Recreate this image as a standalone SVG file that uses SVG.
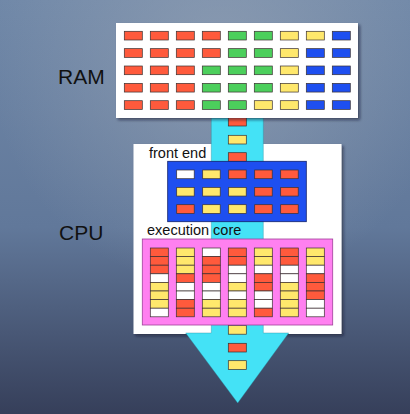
<svg xmlns="http://www.w3.org/2000/svg" width="410" height="414" viewBox="0 0 410 414">
<defs>
<linearGradient id="bg" x1="0" y1="0" x2="0" y2="1">
<stop offset="0" stop-color="#7088a8"/>
<stop offset="0.55" stop-color="#61789a"/>
<stop offset="1" stop-color="#363f5a"/>
</linearGradient>
<radialGradient id="glow" cx="220" cy="60" r="230" gradientUnits="userSpaceOnUse">
<stop offset="0" stop-color="#a0aab8" stop-opacity="0.55"/>
<stop offset="1" stop-color="#a0aab8" stop-opacity="0"/>
</radialGradient>
<filter id="sh" x="-10%" y="-10%" width="125%" height="125%">
<feDropShadow dx="2" dy="2" stdDeviation="1.5" flood-color="#101828" flood-opacity="0.55"/>
</filter>
</defs>
<style>
.c{stroke:#3a3030;stroke-width:0.7}
.r{fill:#ff5a3c}.g{fill:#4ccf5c}.y{fill:#ffe86c}.b{fill:#1e4ff0}.w{fill:#ffffff}
.lbl{font-family:"Liberation Sans",Arial,sans-serif;fill:#111}
</style>
<rect width="410" height="414" fill="url(#bg)"/>
<rect width="410" height="414" fill="url(#glow)"/>

<g id="cpu">
<rect x="133.5" y="144" width="208" height="190" fill="#ffffff" filter="url(#sh)"/>
<text class="lbl" x="59" y="239.5" font-size="21">CPU</text>
</g>

<g id="connectors">
<polygon points="211.3,118 263.3,118 263.3,333 288.7,333 237.7,403 185.7,333 211.3,333" fill="#44e2f6" stroke="#2a8ca0" stroke-width="0.4"/>
<rect class="c r" x="228.3" y="117.3" width="18" height="8.7"/>
<rect class="c y" x="228.3" y="135.3" width="18" height="8.7"/>
<rect class="c r" x="228.3" y="152.7" width="18" height="8.7"/>
<rect class="c y" x="228.3" y="325.5" width="18" height="8.7"/>
<rect class="c r" x="228.3" y="343.3" width="18" height="8.7"/>
<rect class="c y" x="228.3" y="360.7" width="18" height="8.7"/>
</g>

<g id="ram">
<rect x="116" y="23" width="242" height="95" fill="#ffffff" filter="url(#sh)"/>
<text class="lbl" x="58" y="83.7" font-size="21">RAM</text>
<g transform="translate(124.3,31.3)">
<rect class="c r" x="0" y="0" width="18" height="8.7"/><rect class="c r" x="26" y="0" width="18" height="8.7"/><rect class="c r" x="52" y="0" width="18" height="8.7"/><rect class="c r" x="78" y="0" width="18" height="8.7"/><rect class="c g" x="104" y="0" width="18" height="8.7"/><rect class="c g" x="130" y="0" width="18" height="8.7"/><rect class="c y" x="156" y="0" width="18" height="8.7"/><rect class="c y" x="182" y="0" width="18" height="8.7"/><rect class="c b" x="208" y="0" width="18" height="8.7"/>
<rect class="c r" x="0" y="17.35" width="18" height="8.7"/><rect class="c r" x="26" y="17.35" width="18" height="8.7"/><rect class="c r" x="52" y="17.35" width="18" height="8.7"/><rect class="c r" x="78" y="17.35" width="18" height="8.7"/><rect class="c g" x="104" y="17.35" width="18" height="8.7"/><rect class="c g" x="130" y="17.35" width="18" height="8.7"/><rect class="c y" x="156" y="17.35" width="18" height="8.7"/><rect class="c b" x="182" y="17.35" width="18" height="8.7"/><rect class="c b" x="208" y="17.35" width="18" height="8.7"/>
<rect class="c r" x="0" y="34.7" width="18" height="8.7"/><rect class="c r" x="26" y="34.7" width="18" height="8.7"/><rect class="c r" x="52" y="34.7" width="18" height="8.7"/><rect class="c g" x="78" y="34.7" width="18" height="8.7"/><rect class="c g" x="104" y="34.7" width="18" height="8.7"/><rect class="c g" x="130" y="34.7" width="18" height="8.7"/><rect class="c y" x="156" y="34.7" width="18" height="8.7"/><rect class="c b" x="182" y="34.7" width="18" height="8.7"/><rect class="c b" x="208" y="34.7" width="18" height="8.7"/>
<rect class="c r" x="0" y="52.05" width="18" height="8.7"/><rect class="c r" x="26" y="52.05" width="18" height="8.7"/><rect class="c r" x="52" y="52.05" width="18" height="8.7"/><rect class="c g" x="78" y="52.05" width="18" height="8.7"/><rect class="c g" x="104" y="52.05" width="18" height="8.7"/><rect class="c g" x="130" y="52.05" width="18" height="8.7"/><rect class="c y" x="156" y="52.05" width="18" height="8.7"/><rect class="c b" x="182" y="52.05" width="18" height="8.7"/><rect class="c b" x="208" y="52.05" width="18" height="8.7"/>
<rect class="c r" x="0" y="69.4" width="18" height="8.7"/><rect class="c r" x="26" y="69.4" width="18" height="8.7"/><rect class="c r" x="52" y="69.4" width="18" height="8.7"/><rect class="c g" x="78" y="69.4" width="18" height="8.7"/><rect class="c g" x="104" y="69.4" width="18" height="8.7"/><rect class="c y" x="130" y="69.4" width="18" height="8.7"/><rect class="c y" x="156" y="69.4" width="18" height="8.7"/><rect class="c b" x="182" y="69.4" width="18" height="8.7"/><rect class="c b" x="208" y="69.4" width="18" height="8.7"/>
</g>
</g>

<g id="front-end">
<text class="lbl" x="149" y="158.3" font-size="14.5">front end</text>
<rect x="167.7" y="161.3" width="138.6" height="60.4" fill="#1e4ff0" stroke="#10206a" stroke-width="0.8"/>
<g transform="translate(176.7,170)">
<rect class="c w" x="0" y="0" width="17.5" height="8.7"/><rect class="c y" x="26" y="0" width="17.5" height="8.7"/><rect class="c r" x="52" y="0" width="17.5" height="8.7"/><rect class="c r" x="78" y="0" width="17.5" height="8.7"/><rect class="c r" x="104" y="0" width="17.5" height="8.7"/>
<rect class="c y" x="0" y="17.35" width="17.5" height="8.7"/><rect class="c y" x="26" y="17.35" width="17.5" height="8.7"/><rect class="c y" x="52" y="17.35" width="17.5" height="8.7"/><rect class="c r" x="78" y="17.35" width="17.5" height="8.7"/><rect class="c r" x="104" y="17.35" width="17.5" height="8.7"/>
<rect class="c r" x="0" y="34.7" width="17.5" height="8.7"/><rect class="c y" x="26" y="34.7" width="17.5" height="8.7"/><rect class="c y" x="52" y="34.7" width="17.5" height="8.7"/><rect class="c r" x="78" y="34.7" width="17.5" height="8.7"/><rect class="c r" x="104" y="34.7" width="17.5" height="8.7"/>
</g>
</g>

<g id="execution-core">
<text class="lbl" x="147" y="235" font-size="14.5">execution core</text>
<rect x="142.3" y="239" width="190.4" height="86" fill="#ff80f0" stroke="#a0409a" stroke-width="0.8"/>
<g transform="translate(150.3,248)">
<g id="col1"><rect class="c r" x="0" y="0" width="18" height="8.6"/><rect class="c r" x="0" y="8.6" width="18" height="8.6"/><rect class="c r" x="0" y="17.2" width="18" height="8.6"/><rect class="c w" x="0" y="25.8" width="18" height="8.6"/><rect class="c y" x="0" y="34.4" width="18" height="8.6"/><rect class="c y" x="0" y="43" width="18" height="8.6"/><rect class="c y" x="0" y="51.6" width="18" height="8.6"/><rect class="c w" x="0" y="60.2" width="18" height="8.6"/></g>
<g id="col2" transform="translate(26,0)"><rect class="c y" x="0" y="0" width="18" height="8.6"/><rect class="c y" x="0" y="8.6" width="18" height="8.6"/><rect class="c y" x="0" y="17.2" width="18" height="8.6"/><rect class="c r" x="0" y="25.8" width="18" height="8.6"/><rect class="c w" x="0" y="34.4" width="18" height="8.6"/><rect class="c w" x="0" y="43" width="18" height="8.6"/><rect class="c r" x="0" y="51.6" width="18" height="8.6"/><rect class="c r" x="0" y="60.2" width="18" height="8.6"/></g>
<g id="col3" transform="translate(52,0)"><rect class="c w" x="0" y="0" width="18" height="8.6"/><rect class="c r" x="0" y="8.6" width="18" height="8.6"/><rect class="c r" x="0" y="17.2" width="18" height="8.6"/><rect class="c r" x="0" y="25.8" width="18" height="8.6"/><rect class="c w" x="0" y="34.4" width="18" height="8.6"/><rect class="c w" x="0" y="43" width="18" height="8.6"/><rect class="c y" x="0" y="51.6" width="18" height="8.6"/><rect class="c y" x="0" y="60.2" width="18" height="8.6"/></g>
<g id="col4" transform="translate(78,0)"><rect class="c r" x="0" y="0" width="18" height="8.6"/><rect class="c r" x="0" y="8.6" width="18" height="8.6"/><rect class="c w" x="0" y="17.2" width="18" height="8.6"/><rect class="c w" x="0" y="25.8" width="18" height="8.6"/><rect class="c y" x="0" y="34.4" width="18" height="8.6"/><rect class="c w" x="0" y="43" width="18" height="8.6"/><rect class="c y" x="0" y="51.6" width="18" height="8.6"/><rect class="c y" x="0" y="60.2" width="18" height="8.6"/></g>
<g id="col5" transform="translate(104,0)"><rect class="c y" x="0" y="0" width="18" height="8.6"/><rect class="c y" x="0" y="8.6" width="18" height="8.6"/><rect class="c w" x="0" y="17.2" width="18" height="8.6"/><rect class="c r" x="0" y="25.8" width="18" height="8.6"/><rect class="c r" x="0" y="34.4" width="18" height="8.6"/><rect class="c w" x="0" y="43" width="18" height="8.6"/><rect class="c w" x="0" y="51.6" width="18" height="8.6"/><rect class="c r" x="0" y="60.2" width="18" height="8.6"/></g>
<g id="col6" transform="translate(130,0)"><rect class="c r" x="0" y="0" width="18" height="8.6"/><rect class="c r" x="0" y="8.6" width="18" height="8.6"/><rect class="c w" x="0" y="17.2" width="18" height="8.6"/><rect class="c w" x="0" y="25.8" width="18" height="8.6"/><rect class="c y" x="0" y="34.4" width="18" height="8.6"/><rect class="c y" x="0" y="43" width="18" height="8.6"/><rect class="c y" x="0" y="51.6" width="18" height="8.6"/><rect class="c y" x="0" y="60.2" width="18" height="8.6"/></g>
<g id="col7" transform="translate(156,0)"><rect class="c y" x="0" y="0" width="18" height="8.6"/><rect class="c y" x="0" y="8.6" width="18" height="8.6"/><rect class="c w" x="0" y="17.2" width="18" height="8.6"/><rect class="c r" x="0" y="25.8" width="18" height="8.6"/><rect class="c r" x="0" y="34.4" width="18" height="8.6"/><rect class="c r" x="0" y="43" width="18" height="8.6"/><rect class="c w" x="0" y="51.6" width="18" height="8.6"/><rect class="c w" x="0" y="60.2" width="18" height="8.6"/></g>
</g>
</g>
</svg>
